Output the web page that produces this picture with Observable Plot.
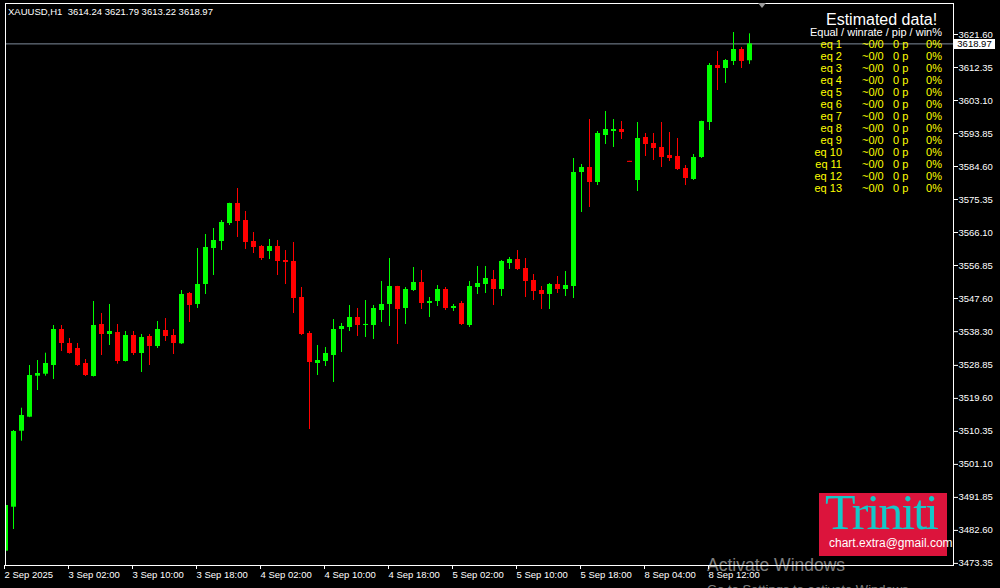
<!DOCTYPE html>
<html><head><meta charset="utf-8">
<script src="https://cdn.jsdelivr.net/npm/d3@7"></script>
<script src="https://cdn.jsdelivr.net/npm/@observablehq/plot@0.6"></script>
<style>
html,body{margin:0;padding:0;background:#000;}
#wrap{position:relative;width:1000px;height:588px;overflow:hidden;background:#000;font-family:"Liberation Sans",Arial,sans-serif;}
#wrap svg{position:absolute;left:0;top:0;}
.ov{position:absolute;white-space:nowrap;line-height:1;}
</style></head><body><div id="wrap"></div>
<script>
const symbol = "XAUUSD,H1";
const opens = [3476.77,3489.10,3510.40,3514.33,3525.82,3526.38,3528.82,3538.91,3534.99,3533.59,
3529.38,3525.74,3540.31,3537.51,3538.07,3529.94,3537.23,3532.18,3536.95,3534.15,
3538.63,3537.23,3534.90,3549.00,3545.92,3551.52,3561.62,3563.58,3568.62,3574.23,
3569.46,3563.58,3562.18,3560.77,3562.18,3558.25,3557.97,3547.88,3537.79,3529.38,
3529.94,3531.62,3538.91,3539.47,3542.27,3540.03,3540.03,3544.24,3545.92,3550.96,
3544.80,3549.84,3552.09,3546.20,3546.76,3550.12,3544.80,3546.20,3540.03,3550.68,
3551.52,3552.93,3550.12,3557.41,3558.53,3556.01,3552.65,3549.84,3548.72,3551.52,
3550.12,3550.96,3582.92,3584.32,3580.12,3593.29,3594.41,3594.97,3586.05,3580.68,
3592.73,3591.05,3589.93,3587.68,3587.40,3584.04,3580.96,3587.12,3596.93,3612.91,
3612.07,3614.03,3617.40,3614.24];
const highs = [3490.50,3510.60,3516.85,3528.82,3530.22,3532.27,3540.03,3540.03,3536.39,3534.99,
3530.50,3546.76,3543.40,3545.92,3540.31,3538.35,3538.35,3537.51,3537.51,3541.15,
3541.99,3538.91,3549.84,3549.28,3561.62,3565.54,3567.22,3569.46,3574.30,3578.43,
3571.99,3566.10,3562.46,3564.14,3563.86,3561.05,3563.30,3550.68,3538.35,3534.43,
3533.87,3541.71,3540.59,3545.64,3544.80,3547.04,3545.64,3552.37,3558.81,3551.00,
3550.68,3556.29,3555.45,3547.88,3551.24,3550.68,3545.92,3546.76,3552.37,3556.57,
3556.57,3555.45,3558.25,3559.09,3561.05,3558.81,3554.33,3550.96,3551.81,3553.77,
3555.17,3586.84,3585.16,3597.77,3594.41,3600.02,3597.77,3597.21,3586.05,3596.93,
3593.85,3593.85,3596.93,3594.13,3592.45,3584.88,3587.96,3597.30,3613.47,3616.83,
3614.59,3622.16,3617.96,3621.79];
const lows = [3476.49,3482.85,3507.60,3514.20,3521.81,3525.82,3524.90,3532.74,3532.00,3528.60,
3525.74,3525.60,3531.62,3534.43,3529.19,3529.80,3531.62,3526.86,3528.82,3533.59,
3535.55,3531.90,3534.71,3540.87,3544.80,3548.72,3554.05,3561.05,3568.06,3564.70,
3561.34,3560.21,3558.25,3558.53,3554.05,3551.52,3543.40,3537.23,3510.88,3526.02,
3528.54,3524.06,3532.46,3538.35,3536.95,3536.67,3536.11,3540.87,3539.75,3534.71,
3540.31,3549.56,3544.52,3542.27,3545.36,3544.24,3543.96,3540.03,3539.47,3548.72,
3549.00,3545.64,3548.16,3555.73,3555.45,3547.88,3547.04,3544.52,3544.52,3549.00,
3548.16,3547.60,3571.71,3573.11,3579.27,3590.77,3589.93,3592.17,3585.95,3577.59,
3587.40,3586.28,3584.32,3586.00,3583.48,3579.27,3580.68,3586.84,3594.69,3605.90,
3607.87,3612.91,3612.07,3613.22];
const closes = [3489.58,3510.32,3514.81,3526.02,3526.58,3529.38,3538.91,3534.99,3532.18,3528.82,
3526.02,3540.03,3537.51,3538.35,3529.94,3537.23,3532.18,3536.67,3534.15,3538.91,
3536.95,3534.99,3548.72,3545.64,3551.52,3561.90,3563.86,3568.90,3574.23,3569.18,
3563.30,3561.90,3558.81,3562.18,3557.97,3557.69,3547.60,3537.51,3529.66,3530.22,
3532.18,3538.91,3539.75,3542.27,3540.03,3540.31,3544.80,3545.92,3550.96,3544.52,
3550.12,3552.09,3546.20,3546.76,3550.12,3544.80,3545.36,3540.31,3550.96,3551.81,
3553.21,3550.12,3557.97,3558.53,3555.73,3552.37,3549.56,3548.72,3551.52,3550.12,
3551.24,3582.92,3584.32,3580.12,3593.85,3594.97,3594.97,3594.13,3585.95,3592.45,
3590.77,3589.65,3587.12,3586.84,3583.76,3581.24,3587.12,3597.21,3612.91,3612.07,
3614.31,3617.40,3614.03,3618.97];

const xTickIdx = [0,8,16,24,32,40,48,56,64,72,80,88];
const xTickLabels = ["2 Sep 2025","3 Sep 02:00","3 Sep 10:00","3 Sep 18:00","4 Sep 02:00","4 Sep 10:00",
  "4 Sep 18:00","5 Sep 02:00","5 Sep 10:00","5 Sep 18:00","8 Sep 04:00","8 Sep 12:00"];
const yTickLabels = ["3621.60","3612.35","3603.10","3593.85","3584.60","3575.35","3566.10","3556.85",
  "3547.60","3538.30","3528.85","3519.60","3510.35","3501.10","3491.85","3482.60","3473.35"];

const panelTitle = "Estimated data!";
const panelHeader = "Equal / winrate / pip / win%";
const eqNames = ["eq 1","eq 2","eq 3","eq 4","eq 5","eq 6","eq 7","eq 8","eq 9","eq 10","eq 11","eq 12","eq 13"];
const eqWinrate = ["~0/0","~0/0","~0/0","~0/0","~0/0","~0/0","~0/0","~0/0","~0/0","~0/0","~0/0","~0/0","~0/0"];
const eqPip = ["0 p","0 p","0 p","0 p","0 p","0 p","0 p","0 p","0 p","0 p","0 p","0 p","0 p"];
const eqWinPct = ["0%","0%","0%","0%","0%","0%","0%","0%","0%","0%","0%","0%","0%"];
const brandName = "Triniti";
const brandMail = "chart.extra@gmail.com";

const UP = "#00ff00", DOWN = "#ff0000";
const candles = opens.map((o, i) => ({i, o, h: highs[i], l: lows[i], c: closes[i]}));
const col = d => d.c >= d.o ? UP : DOWN;
const n = candles.length;
const last = candles[n - 1];
const yTickVals = yTickLabels.map(Number);

const chart = Plot.plot({
  width: 1000, height: 588,
  marginLeft: 5, marginRight: 47, marginTop: 3, marginBottom: 23,
  style: {background: "#000", color: "#fff", fontFamily: "'Liberation Sans', Arial, sans-serif", fontSize: "9.5px"},
  x: {type: "linear", domain: [0, 118.5], label: null},
  y: {domain: [3472.76, 3630.29], label: null},
  marks: [
    Plot.ruleY([last.c], {stroke: "#7f8c9c", strokeWidth: 1}),
    Plot.ruleX(candles, {x: "i", y1: "l", y2: "h", stroke: col, strokeWidth: 1, clip: true}),
    Plot.ruleX(candles, {x: "i", y1: "o",
      y2: d => Math.abs(d.c - d.o) < 0.3 ? d.o + (d.c >= d.o ? 0.3 : -0.3) : d.c,
      stroke: col, strokeWidth: 5, clip: true}),
    Plot.frame({stroke: "#fff"}),
    Plot.axisY(yTickVals, {anchor: "right", tickSize: 4, tickPadding: 1, label: null,
      tickFormat: d => d.toFixed(2), stroke: "#fff", fill: "#fff", fontSize: 9.5}),
    Plot.axisX(xTickIdx, {anchor: "bottom", tickSize: 4, tickPadding: 2, label: null,
      tickFormat: d => xTickLabels[xTickIdx.indexOf(d)], textAnchor: "start", dx: -1,
      stroke: "#fff", fill: "#fff", fontSize: 9.5})
  ]
});
const wrap = document.getElementById("wrap");
wrap.appendChild(chart);

function ov(text, css) {
  const d = document.createElement("div");
  d.className = "ov";
  d.textContent = text;
  Object.assign(d.style, css);
  wrap.appendChild(d);
  return d;
}
const fmt = v => v.toFixed(2);
// header
ov(`${symbol}  ${fmt(last.o)} ${fmt(last.h)} ${fmt(last.l)} ${fmt(last.c)}`,
  {left: "8px", top: "7px", fontSize: "9.5px", color: "#fff", whiteSpace: "pre"});
// chart shift marker
const tri = document.createElement("div");
Object.assign(tri.style, {position: "absolute", left: "758px", top: "3px", width: 0, height: 0,
  borderLeft: "4px solid transparent", borderRight: "4px solid transparent", borderTop: "5px solid #9a9a9a"});
wrap.appendChild(tri);
// price label
const yc = chart.scale("y").apply(last.c);
ov(fmt(last.c), {left: "954px", top: (yc - 4) + "px", width: "41px", height: "10px", background: "#fff",
  color: "#000", fontSize: "9.5px", lineHeight: "10px", textAlign: "center"});
// panel
ov(panelTitle, {left: "826px", top: "11.5px", fontSize: "16px", color: "#fff"});
ov(panelHeader, {right: "58px", top: "27px", fontSize: "11px", color: "#fff", textAlign: "right"});
eqNames.forEach((name, k) => {
  const t = (38.8 + 12 * k) + "px";
  ov(name, {right: "158px", top: t, fontSize: "11px", color: "#ffff00"});
  ov(eqWinrate[k], {left: "862px", top: t, fontSize: "11px", color: "#ffff00"});
  ov(eqPip[k], {left: "893px", top: t, fontSize: "11px", color: "#ffff00"});
  ov(eqWinPct[k], {right: "58px", top: t, fontSize: "11px", color: "#ffff00"});
});
// brand box
const box = document.createElement("div");
Object.assign(box.style, {position: "absolute", left: "819px", top: "493px", width: "128px", height: "63px", background: "#dc143c"});
wrap.appendChild(box);
ov(brandName, {left: "825px", top: "492px", fontSize: "50px", lineHeight: "40px", letterSpacing: "-2px", color: "#14c8c8",
  fontFamily: "'Liberation Serif', 'Times New Roman', serif"});
ov(brandMail, {left: "829px", top: "536.8px", fontSize: "12px", color: "#fff"});
// watermark
ov("Activate Windows", {left: "707px", top: "557px", fontSize: "17.5px", color: "rgba(255,255,255,0.5)"});
ov("Go to Settings to activate Windows.", {left: "707px", top: "583px", fontSize: "13px", color: "rgba(255,255,255,0.5)"});
</script>
</body></html>
